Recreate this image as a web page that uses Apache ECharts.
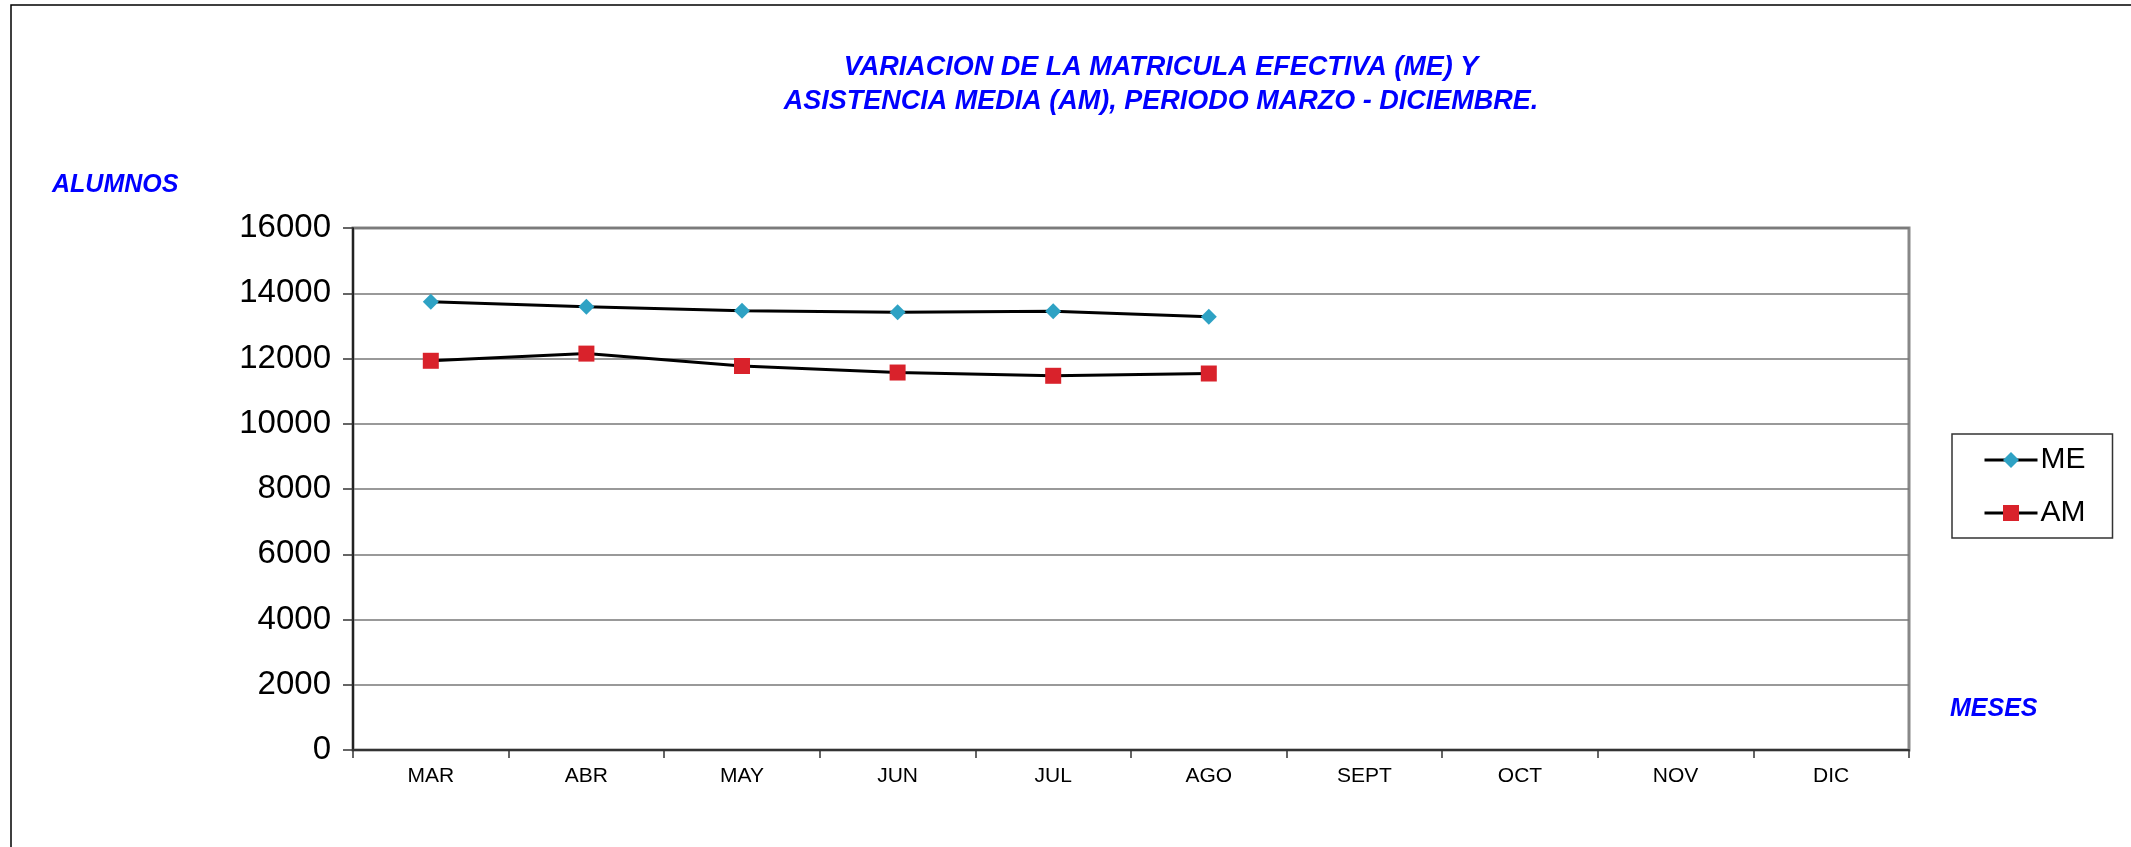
<!DOCTYPE html>
<html>
<head>
<meta charset="utf-8">
<script src="https://cdn.jsdelivr.net/npm/echarts@6/dist/echarts.min.js"></script>
<style>
  html, body { margin: 0; padding: 0; background: #fff; }
  #chart { width: 2131px; height: 847px; }
</style>
</head>
<body>
<div id="chart"></div>
<script>
// meses del periodo
var meses = ['MAR', 'ABR', 'MAY', 'JUN', 'JUL', 'AGO', 'SEPT', 'OCT', 'NOV', 'DIC'];
// matricula efectiva
var me = [13740, 13590, 13460, 13420, 13450, 13280, null, null, null, null];
// asistencia media
var am = [11930, 12150, 11770, 11570, 11470, 11540, null, null, null, null];

var font = 'Liberation Sans, Arial, sans-serif';
var azul = '#0000ff';

var chart = echarts.init(document.getElementById('chart'));

var option = {
    backgroundColor: '#fff',
    animation: false,
    title: {
        text: 'VARIACION DE LA MATRICULA EFECTIVA (ME) Y\nASISTENCIA MEDIA (AM), PERIODO MARZO - DICIEMBRE.',
        left: 1156,
        top: 46,
        textAlign: 'center',
        textStyle: {
            color: azul,
            fontFamily: font,
            fontSize: 27,
            fontWeight: 'bold',
            fontStyle: 'italic',
            lineHeight: 34
        }
    },
    graphic: [
        {
            // marco exterior
            type: 'rect',
            shape: { x: 11, y: 5, width: 2200, height: 900 },
            style: { fill: null, stroke: '#000', lineWidth: 1.5 },
            silent: true
        },
        {
            type: 'text',
            left: 52,
            top: 173,
            style: {
                text: 'ALUMNOS',
                fill: azul,
                font: 'italic bold 25px ' + font
            }
        },
        {
            type: 'text',
            left: 1950,
            top: 697,
            style: {
                text: 'MESES',
                fill: azul,
                font: 'italic bold 25px ' + font
            }
        }
    ],
    legend: {
        orient: 'vertical',
        left: 1952,
        top: 434,
        padding: [8, 27, 7, 31],
        borderColor: '#333',
        borderWidth: 1.5,
        itemWidth: 53,
        itemHeight: 20,
        itemGap: 17,
        lineStyle: { width: 3 },
        textStyle: {
            color: '#000',
            fontFamily: font,
            fontSize: 30,
            lineHeight: 36,
            padding: [0, 0, 0, -2]
        },
        data: ['ME', 'AM']
    },
    grid: {
        left: 353,
        right: 2131 - 1909,
        top: 228,
        bottom: 847 - 750,
        show: true,
        borderColor: '#888',
        borderWidth: 3
    },
    xAxis: {
        type: 'category',
        data: meses,
        boundaryGap: true,
        axisLine: { lineStyle: { color: '#333', width: 2 } },
        axisTick: { show: true, length: 8, lineStyle: { color: '#333', width: 1.5 } },
        axisLabel: {
            color: '#000',
            fontFamily: font,
            fontSize: 21,
            margin: 16
        }
    },
    yAxis: {
        type: 'value',
        min: 0,
        max: 16000,
        interval: 2000,
        axisLine: { show: true, lineStyle: { color: '#000', width: 1.5 } },
        axisTick: { show: true, length: 10, lineStyle: { color: '#333', width: 1.5 } },
        axisLabel: {
            color: '#000',
            fontFamily: font,
            fontSize: 33,
            margin: 22,
            padding: [4, 0, 0, 0],
            formatter: function (v) { return String(v); }
        },
        splitLine: { lineStyle: { color: '#777', width: 1.5 } }
    },
    series: [
        {
            name: 'ME',
            type: 'line',
            data: me,
            symbol: 'diamond',
            symbolSize: 16,
            lineStyle: { color: '#000', width: 3 },
            itemStyle: { color: '#2ea2c4' }
        },
        {
            name: 'AM',
            type: 'line',
            data: am,
            symbol: 'rect',
            symbolSize: 16,
            lineStyle: { color: '#000', width: 3 },
            itemStyle: { color: '#d9222b' }
        }
    ]
};

chart.setOption(option);
</script>
</body>
</html>
